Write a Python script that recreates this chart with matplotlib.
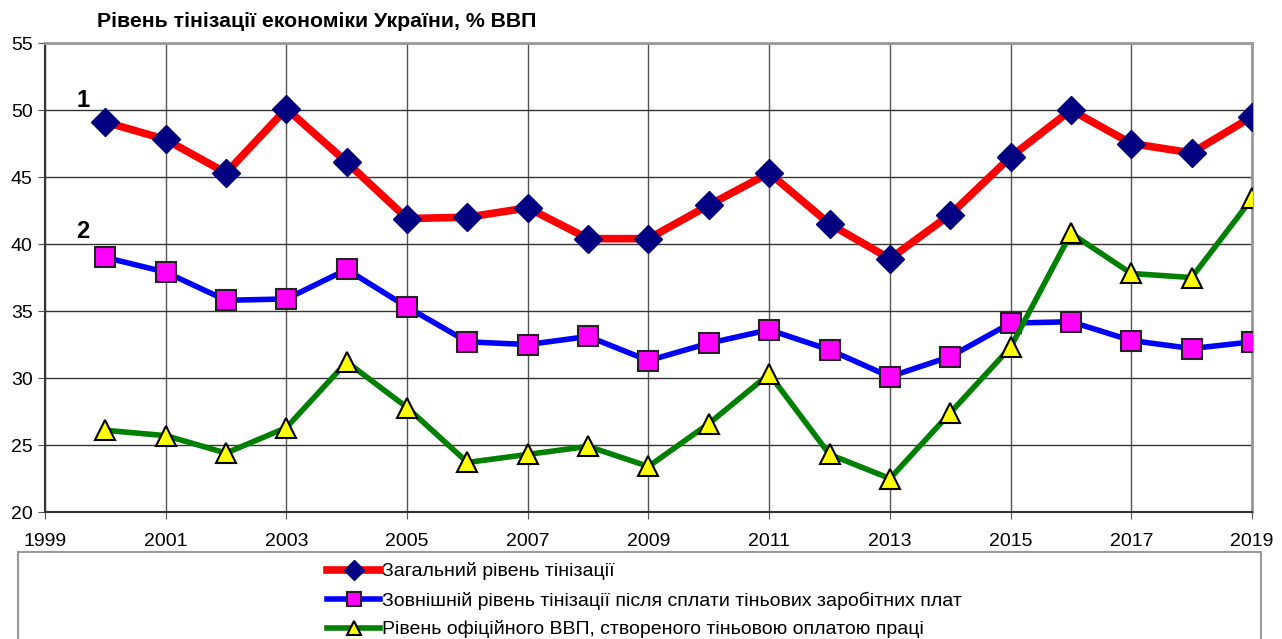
import numpy as np
import matplotlib
matplotlib.use('Agg')
import matplotlib.pyplot as plt
from matplotlib.patches import Rectangle

# data
years = list(range(2000, 2020))
total_level = [49.1, 47.8, 45.3, 50.1, 46.1, 41.9, 42.0, 42.7, 40.4, 40.4,
               42.9, 45.3, 41.5, 38.9, 42.2, 46.5, 50.0, 47.5, 46.8, 49.5]
external_level = [39.0, 37.9, 35.8, 35.9, 38.1, 35.3, 32.7, 32.5, 33.1, 31.3,
                  32.6, 33.6, 32.1, 30.1, 31.6, 34.1, 34.2, 32.8, 32.2, 32.7]
official_gdp = [26.1, 25.7, 24.4, 26.3, 31.2, 27.8, 23.7, 24.3, 24.9, 23.4,
                26.6, 30.3, 24.3, 22.5, 27.4, 32.3, 40.8, 37.8, 37.5, 43.4]
series_names = ['Загальний рівень тінізації',
                'Зовнішній рівень тінізації після сплати тіньових заробітних плат',
                'Рівень офіційного ВВП, створеного тіньовою оплатою праці']
x_ticks = list(range(1999, 2020, 2))
y_ticks = list(range(20, 56, 5))

plt.rcParams['font.family'] = ['Liberation Sans', 'DejaVu Sans']

fig = plt.figure(figsize=(12.82, 6.39), dpi=100)
ax = fig.add_axes([0.0351, 0.1987, 0.9415, 0.734])

# grid lines
for x in x_ticks:
    ax.axvline(x, color='#555555', lw=1.0, zorder=0)
for y in y_ticks:
    ax.axhline(y, color='#333333', lw=1.0, zorder=0)

l1, = ax.plot(years, total_level, color='red', lw=5.5, marker='D', markersize=14,
              markerfacecolor='#000080', markeredgecolor='#000080', zorder=3)
l2, = ax.plot(years, external_level, color='blue', lw=4, marker='s', markersize=14,
              markerfacecolor='magenta', markeredgecolor='#222222', markeredgewidth=1.5, zorder=3)
l3, = ax.plot(years, official_gdp, color='green', lw=4, marker='^', markersize=14,
              markerfacecolor='yellow', markeredgecolor='black', markeredgewidth=1.5, zorder=3)

ax.set_xlim(1999, 2019)
ax.set_ylim(20, 55)
ax.set_xticks(x_ticks)
ax.set_yticks(y_ticks)
ax.tick_params(axis='both', labelsize=14, direction='out', length=5, color='#555555')
ax.tick_params(axis='y', pad=4)
ax.tick_params(axis='x', pad=10)
for side in ['top', 'right']:
    ax.spines[side].set_color('#999999')
    ax.spines[side].set_linewidth(2)
for side in ['left', 'bottom']:
    ax.spines[side].set_color('#333333')
    ax.spines[side].set_linewidth(1.5)

ax.text(1999.63, 50.7, '1', fontsize=17, fontweight='bold', ha='center', va='center')
ax.text(1999.63, 40.9, '2', fontsize=17, fontweight='bold', ha='center', va='center')

fig.text(0.0757, 0.966, 'Рівень тінізації економіки України, % ВВП',
         fontsize=15.3, fontweight='bold', ha='left', va='center')

# legend box
fig.patches.append(Rectangle((0.014, -0.05), 0.97, 0.186, transform=fig.transFigure,
                             facecolor='white', edgecolor='#999999', lw=1.5))
leg = fig.legend([l1, l2, l3], series_names, loc='upper left',
                 bbox_to_anchor=(0.255, 0.12), frameon=False, fontsize=14,
                 handlelength=2.75, handletextpad=0.1, labelspacing=0.56,
                 markerscale=0.75, borderaxespad=0, borderpad=0)

fig.savefig('out.png', dpi=100)
